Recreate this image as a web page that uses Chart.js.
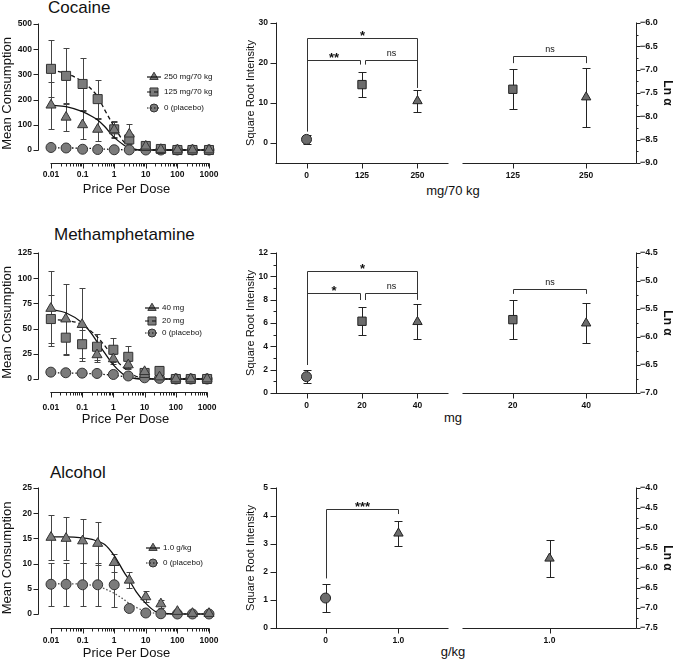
<!DOCTYPE html>
<html>
<head>
<meta charset="utf-8">
<script src="https://cdn.jsdelivr.net/npm/chart.js@4.4.1/dist/chart.umd.min.js"></script>
<style>
  body { margin: 0; background: #fff; }
  #fig { position: relative; width: 676px; height: 661px; font-family: 'Liberation Sans', Arial, sans-serif; color: #111; }
  #fig canvas { position: absolute; }
  .lbl { position: absolute; white-space: nowrap; line-height: 1; }
  .panel-title { font-size: 17px; }
  .x-title { font-size: 13px; transform: translateX(-50%); }
</style>
</head>
<body>
<div id="fig">
  <div class="lbl panel-title" style="left:48px;top:-1px">Cocaine</div>
  <div class="lbl panel-title" style="left:54px;top:226px">Methamphetamine</div>
  <div class="lbl panel-title" style="left:50px;top:464px">Alcohol</div>
  <div class="lbl x-title" style="left:453px;top:184px">mg/70 kg</div>
  <div class="lbl x-title" style="left:453px;top:411px">mg</div>
  <div class="lbl x-title" style="left:453px;top:645px">g/kg</div>

  <canvas id="cocDemand" width="228" height="200" style="left:0;top:0"></canvas>
  <canvas id="cocDose" width="226" height="200" style="left:230px;top:0"></canvas>
  <canvas id="cocAlpha" width="220" height="200" style="left:456px;top:0"></canvas>

  <canvas id="methDemand" width="228" height="215" style="left:0;top:215px"></canvas>
  <canvas id="methDose" width="226" height="215" style="left:230px;top:215px"></canvas>
  <canvas id="methAlpha" width="220" height="215" style="left:456px;top:215px"></canvas>

  <canvas id="alcDemand" width="228" height="221" style="left:0;top:440px"></canvas>
  <canvas id="alcDose" width="226" height="221" style="left:230px;top:440px"></canvas>
  <canvas id="alcAlpha" width="220" height="221" style="left:456px;top:440px"></canvas>
</div>
<script>
// ---------- data ----------
const prices = [0.01, 0.03, 0.1, 0.3, 1, 3, 10, 30, 100, 300, 1000];
const fitPrices = [0.01, 0.03, 0.1, 0.2, 0.3, 0.5, 1, 2, 3, 5, 10, 20, 30, 100, 1000];
const priceLabels = ['0.01', '0.1', '1', '10', '100', '1000'];

// cocaine demand
const coc250 = [178, 130, 100, 82, 80, 63, 15, 2, 0, 0, 0];
const coc250Err = [93, 55, 55, 45, 30, 40, 6, 2, 0, 0, 0];
const coc125 = [322, 294, 262, 202, 82, 42, 16, 4, 0, 0, 0];
const coc125Err = [113, 112, 104, 77, 34, 15, 5, 2, 0, 0, 0];
const cocPlacebo = [10, 8, 3, 2, 1, 0.5, 0, 0, 0, 0, 0];
const coc250Fit = [178, 172, 152, 133, 119, 93, 50, 20, 7, 1, 0, 0, 0, 0, 0];
const coc125Fit = [317, 304, 271, 238, 212, 159, 93, 33, 11, 2, 0, 0, 0, 0, 0];
const cocPlaceboFit = [9, 8.5, 7, 6, 5, 3.5, 2, 0.8, 0.3, 0, 0, 0, 0, 0, 0];
const cocConsTicks = [0, 100, 200, 300, 400, 500];

// methamphetamine demand
const meth40 = [70, 59.5, 54, 24, 20, 14, 7.3, 2, 0, 0, 0];
const meth40Err = [37, 35, 36, 7, 5, 4, 2, 1, 0, 0, 0];
const meth20 = [59.5, 41, 34.5, 32, 29, 22, 6, 8, 0, 0, 0];
const meth20Err = [24, 17, 14, 13, 12, 11, 3, 5, 0, 0, 0];
const methPlacebo = [6.8, 6.2, 5.8, 5.5, 4.5, 3, 1.2, 0.6, 0, 0, 0];
const meth40Fit = [69, 65.7, 55.7, 45, 37, 27, 14, 5, 2, 0.5, 0, 0, 0, 0, 0];
const meth20Fit = [59, 58, 54, 47, 42, 34, 22, 12, 8, 3, 1, 0.2, 0, 0, 0];
const methPlaceboFit = [6, 6, 5.6, 5.3, 5, 4.5, 3.8, 2.5, 1.5, 0.8, 0.3, 0.1, 0, 0, 0];
const methConsTicks = [0, 25, 50, 75, 100, 125];

// alcohol demand
const alc10 = [15.2, 15.0, 14.5, 14.0, 10.2, 6.7, 3.4, 2.0, 0.5, 0.1, 0.1];
const alc10Err = [4.5, 4.3, 4.3, 4.3, 1.8, 1.6, 1.1, 0.8, 0.3, 0.1, 0.1];
const alcPlacebo = [5.9, 5.9, 5.8, 5.8, 5.8, 1.1, 0.2, 0.05, 0, 0, 0];
const alcPlaceboErr = [4.3, 4.3, 4.3, 4.3, 4.4, 0.3, 0.2, 0, 0, 0, 0];
const alc10Fit = [15.3, 15.3, 15.1, 14.8, 14.4, 13.8, 11.6, 8.4, 6.7, 4.4, 2.1, 0.5, 0.2, 0, 0];
const alcPlaceboFit = [6.0, 6.0, 5.9, 5.7, 5.5, 5.0, 4.1, 2.9, 2.1, 1.3, 0.5, 0.15, 0.1, 0, 0];
const alcConsTicks = [0, 5, 10, 15, 20, 25];

// square root intensity and ln alpha
const cocDoses = ['0', '125', '250'];
const cocIntensity = [0.9, 14.6, 10.5];
const cocIntensityErr = [1.1, 3.2, 2.7];
const cocIntTicks = [0, 10, 20, 30];
const cocAlphaDoses = ['125', '250'];
const cocLnAlpha = [-7.42, -7.59];
const cocLnAlphaErr = [0.43, 0.63];
const cocAlphaTicks = [-9, -8.5, -8, -7.5, -7, -6.5, -6];

const methDoses = ['0', '20', '40'];
const methIntensity = [1.4, 6.15, 6.1];
const methIntensityErr = [0.57, 1.19, 1.5];
const methIntTicks = [0, 2, 4, 6, 8, 10, 12];
const methAlphaDoses = ['20', '40'];
const methLnAlpha = [-5.69, -5.755];
const methLnAlphaErr = [0.35, 0.355];
const methAlphaTicks = [-7, -6.5, -6, -5.5, -5, -4.5];

const alcDoses = ['0', '1.0'];
const alcIntensity = [1.07, 3.38];
const alcIntensityErr = [0.5, 0.45];
const alcIntTicks = [0, 1, 2, 3, 4, 5];
const alcAlphaDoses = ['1.0'];
const alcLnAlpha = [-5.76];
const alcLnAlphaErr = [0.46];
const alcAlphaTicks = [-7.5, -7, -6.5, -6, -5.5, -5, -4.5, -4];

// significance brackets (category index, value level, leg ends)
const cocIntensitySig = [
  {from: 0, to: 2, y: 26.3, ends: [2.9, 13.8], text: '*'},
  {from: 0, to: 1, y: 20.75, ends: [2.9, 19.6], text: '**'},
  {from: 1, to: 2, y: 20.75, ends: [19.6, 13.8], text: 'ns'}
];
const cocAlphaSig = [{from: 0, to: 1, y: -6.71, ends: [-6.86, -6.86], text: 'ns'}];
const methIntensitySig = [
  {from: 0, to: 2, y: 10.45, ends: [2.4, 8.0], text: '*'},
  {from: 0, to: 1, y: 8.54, ends: [2.4, 7.97], text: '*'},
  {from: 1, to: 2, y: 8.54, ends: [7.97, 8.0], text: 'ns'}
];
const methAlphaSig = [{from: 0, to: 1, y: -5.14, ends: [-5.23, -5.23], text: 'ns'}];
const alcIntensitySig = [{from: 0, to: 1, y: 4.24, ends: [1.77, 4.07], text: '***'}];

// ---------- drawing ----------
Chart.defaults.font.family = "'Liberation Sans', Arial, sans-serif";
Chart.defaults.color = '#111';
Chart.defaults.animation = false;
Chart.defaults.plugins.legend.display = false;
Chart.defaults.plugins.tooltip.enabled = false;

const FONT = "'Liberation Sans', Arial, sans-serif";
const tickFont = {size: 8.5, weight: 'bold'};
const ink = '#222';
const noGrid = {display: false, drawTicks: false, tickLength: 0};
const demandRadius = {circle: 5, rect: 6.4, triangle: 5.8};
const legendRadius = {circle: 4, rect: 5.7, triangle: 4.8};
const groupRadius = {circle: 5, rect: 5.9, triangle: 5.4};

function drawMarker(ctx, style, x, y, r) {
  ctx.beginPath();
  if (style === 'circle') {
    ctx.arc(x, y, r, 0, Math.PI * 2);
  } else if (style === 'rect') {
    const s = r * Math.SQRT1_2;
    ctx.rect(x - s, y - s, 2 * s, 2 * s);
  } else {
    ctx.moveTo(x, y - r);
    ctx.lineTo(x + r * 0.866, y + r * 0.5);
    ctx.lineTo(x - r * 0.866, y + r * 0.5);
    ctx.closePath();
  }
  ctx.fill();
  ctx.stroke();
}

const crisp = v => Math.round(v) + 0.5;

// detached Prism-style axis lines and ticks
const axesPlugin = {
  id: 'prismAxes',
  afterDatasetsDraw(chart, args, o) {
    const {ctx, chartArea: a, scales: {x, y}} = chart;
    ctx.save();
    ctx.strokeStyle = ink;
    ctx.lineWidth = 1;
    ctx.beginPath();
    const yb = crisp(a.bottom);
    const x0 = o.xSpan ? x.getPixelForValue(o.xSpan[0]) : a.left;
    const x1 = o.xSpan ? x.getPixelForValue(o.xSpan[1]) : a.right;
    ctx.moveTo(x0 - 0.5, yb); ctx.lineTo(x1 + 0.5, yb);
    (o.xMajor || []).forEach(v => { const p = crisp(x.getPixelForValue(v)); ctx.moveTo(p, yb); ctx.lineTo(p, yb + 5); });
    (o.xMinor || []).forEach(v => { const p = crisp(x.getPixelForValue(v)); ctx.moveTo(p, yb); ctx.lineTo(p, yb + 3); });
    const xa = o.yRight ? crisp(a.right) : crisp(a.left);
    const dir = o.yRight ? 1 : -1;
    const yt = o.ySpan ? y.getPixelForValue(o.ySpan[1]) : a.top;
    const ybt = o.ySpan ? y.getPixelForValue(o.ySpan[0]) : a.bottom;
    ctx.moveTo(xa, ybt + 0.5); ctx.lineTo(xa, yt - 0.5);
    (o.yMajor || []).forEach(v => { const p = crisp(y.getPixelForValue(v)); ctx.moveTo(xa, p); ctx.lineTo(xa + dir * o.yLen, p); });
    (o.yMinor || []).forEach(v => { const p = crisp(y.getPixelForValue(v)); ctx.moveTo(xa, p); ctx.lineTo(xa + dir * o.yLen / 2, p); });
    ctx.stroke();
    ctx.restore();
  }
};

const errorBars = {
  id: 'errorBars',
  beforeDatasetsDraw(chart, args, o) {
    const ctx = chart.ctx;
    ctx.save();
    ctx.strokeStyle = o.color || ink;
    ctx.lineWidth = 1;
    chart.data.datasets.forEach((ds, i) => {
      if (!ds.err) return;
      const meta = chart.getDatasetMeta(i);
      const ys = chart.scales[meta.yAxisID];
      meta.data.forEach((pt, j) => {
        const e = ds.err[j];
        if (!e) return;
        const v = ds.data[j].y;
        const top = crisp(ys.getPixelForValue(v + e));
        const bot = crisp(ys.getPixelForValue(v - e));
        const x = crisp(pt.x);
        ctx.beginPath();
        ctx.moveTo(x, top); ctx.lineTo(x, bot);
        ctx.moveTo(x - o.cap, top); ctx.lineTo(x + o.cap, top);
        ctx.moveTo(x - o.cap, bot); ctx.lineTo(x + o.cap, bot);
        ctx.stroke();
      });
    });
    ctx.restore();
  }
};

const brackets = {
  id: 'brackets',
  afterDatasetsDraw(chart, args, o) {
    const items = o.items || [];
    const {ctx, scales: {x, y}} = chart;
    ctx.save();
    ctx.strokeStyle = '#333';
    ctx.fillStyle = '#111';
    ctx.lineWidth = 1;
    items.forEach(b => {
      const touches = (v, key) => items.some(t => t !== b && t.y === b.y && t[key] === v);
      let xa = x.getPixelForValue(b.from), xb = x.getPixelForValue(b.to);
      if (touches(b.from, 'to')) xa += 2.5;
      if (touches(b.to, 'from')) xb -= 2.5;
      xa = crisp(xa); xb = crisp(xb);
      const yy = crisp(y.getPixelForValue(b.y));
      ctx.beginPath();
      ctx.moveTo(xa, y.getPixelForValue(b.ends[0]));
      ctx.lineTo(xa, yy);
      ctx.lineTo(xb, yy);
      ctx.lineTo(xb, y.getPixelForValue(b.ends[1]));
      ctx.stroke();
      const star = b.text !== 'ns';
      ctx.font = star ? 'bold 13px ' + FONT : '9px ' + FONT;
      ctx.textAlign = 'center';
      ctx.textBaseline = 'alphabetic';
      ctx.fillText(b.text, (xa + xb) / 2, star ? yy + 1 : yy - 5);
    });
    ctx.restore();
  }
};

const demandLegend = {
  id: 'demandLegend',
  afterDraw(chart, args, o) {
    const ctx = chart.ctx;
    ctx.save();
    o.items.forEach((it, i) => {
      const x = o.x, y = o.y[i];
      ctx.fillStyle = '#7b7b7b';
      ctx.strokeStyle = '#333';
      ctx.lineWidth = 1;
      drawMarker(ctx, it.style, x, y, legendRadius[it.style]);
      ctx.strokeStyle = '#111';
      ctx.lineWidth = 1.2;
      ctx.setLineDash(it.dash);
      ctx.beginPath();
      ctx.moveTo(x - 7, y); ctx.lineTo(x + 7, y);
      ctx.stroke();
      ctx.setLineDash([]);
      ctx.fillStyle = '#111';
      ctx.font = '8px ' + FONT;
      ctx.textAlign = 'left';
      ctx.textBaseline = 'middle';
      ctx.fillText(it.label, x + 10, y);
    });
    ctx.restore();
  }
};

// horizontal layout shared by the three demand panels
const AREA_LEFT = 38, AREA_RIGHT = 215, PX_001 = 51, PX_1000 = 209;

function demandChart(id, cfg) {
  const cv = document.getElementById(id);
  const W = cv.width, H = cv.height;
  const yMax = cfg.yTicks[cfg.yTicks.length - 1];
  const perUnit = (cfg.zero - cfg.top) / yMax;
  const yMin = -(cfg.bottom - cfg.zero) / perUnit;
  const decade = (PX_1000 - PX_001) / 5;
  const lo = -2 - (PX_001 - AREA_LEFT) / decade;
  const hi = 3 + (AREA_RIGHT - PX_1000) / decade;

  const majors = [0.01, 0.1, 1, 10, 100, 1000];
  const minors = [];
  majors.slice(0, -1).forEach(m => { for (let k = 2; k <= 9; k++) minors.push(m * k); });
  const allTicks = majors.concat(minors).sort((a, b) => a - b);

  const datasets = [];
  cfg.series.forEach(s => datasets.push({
    type: 'scatter',
    label: s.label,
    data: prices.map((x, i) => ({x, y: s.values[i]})),
    err: s.err,
    pointStyle: s.style,
    pointRadius: demandRadius[s.style],
    pointBackgroundColor: '#7b7b7b',
    pointBorderColor: '#333',
    pointBorderWidth: 1
  }));
  cfg.series.forEach(s => datasets.push({
    type: 'line',
    data: fitPrices.map((x, i) => ({x, y: s.fit[i]})),
    showLine: true,
    borderColor: s.fitColor || '#111',
    borderWidth: 1.3,
    borderDash: s.dash,
    pointRadius: 0,
    cubicInterpolationMode: 'monotone',
    fill: false
  }));

  new Chart(cv, {
    type: 'scatter',
    data: {datasets},
    options: {
      responsive: false,
      layout: {padding: {top: cfg.top, right: W - AREA_RIGHT, bottom: 0, left: 0}},
      scales: {
        x: {
          type: 'logarithmic', bounds: 'data', min: Math.pow(10, lo), max: Math.pow(10, hi),
          afterBuildTicks: s => { s.ticks = allTicks.map(v => ({value: v})); },
          afterFit: s => { s.height = H - cfg.bottom; },
          grid: noGrid, border: {display: false},
          ticks: {
            autoSkip: false, maxRotation: 0, padding: cfg.xLabelPad, font: tickFont, color: '#111',
            callback: v => {
              const k = majors.findIndex(m => Math.abs(m - v) / m < 1e-6);
              return k >= 0 ? priceLabels[k] : '';
            }
          },
          title: {display: true, text: 'Price Per Dose', font: {size: 13}, color: '#111', padding: {top: 0, bottom: cfg.titlePad}}
        },
        y: {
          bounds: 'data', min: yMin, max: yMax,
          afterBuildTicks: s => { s.ticks = cfg.yTicks.map(v => ({value: v})); },
          afterFit: s => { s.width = AREA_LEFT; },
          grid: noGrid, border: {display: false},
          ticks: {autoSkip: false, padding: 6, font: tickFont, color: '#111'},
          title: {display: true, text: 'Mean Consumption', font: {size: 13}, color: '#111', padding: {top: 0, bottom: 0}}
        }
      },
      plugins: {
        prismAxes: {xSpan: [0.01, 1000], xMajor: majors, xMinor: minors, ySpan: [0, yMax], yMajor: cfg.yTicks, yLen: 5},
        errorBars: {cap: 3, color: '#444'},
        demandLegend: {x: cfg.legend.x, y: cfg.legend.y, items: cfg.series.map(s => ({label: s.label, style: s.style, dash: s.dash}))}
      }
    },
    plugins: [axesPlugin, errorBars, demandLegend]
  });
}

function groupChart(id, cfg) {
  const cv = document.getElementById(id);
  const H = cv.height;
  const right = cfg.side === 'right';
  const n = cfg.labels.length;
  const margin = n === 3 ? 0.55 : 0.68;
  const xMin = n === 1 ? -1 : -margin;
  const xMax = n === 1 ? 1 : n - 1 + margin;
  const range = cfg.range || [cfg.ticks[0], cfg.ticks[cfg.ticks.length - 1]];
  const minor = cfg.halfMinor ? cfg.ticks.slice(1).map((v, i) => (v + cfg.ticks[i]) / 2) : (cfg.minor || []);
  const fmt = right ? (v => (v < 0 ? '\u2212' : '') + Math.abs(v).toFixed(1)) : (v => String(v));

  new Chart(cv, {
    type: 'scatter',
    data: {datasets: [{
      data: cfg.values.map((y, i) => ({x: i, y})),
      err: cfg.err,
      pointStyle: cfg.styles,
      pointRadius: cfg.styles.map(s => groupRadius[s]),
      pointBackgroundColor: '#6c6c6c',
      pointBorderColor: '#222',
      pointBorderWidth: 1
    }]},
    options: {
      responsive: false,
      layout: {padding: {top: cfg.top, left: right ? 7 : 0, right: right ? 0 : 8, bottom: 0}},
      scales: {
        x: {
          type: 'linear', bounds: 'data', min: xMin, max: xMax,
          afterBuildTicks: s => { s.ticks = cfg.labels.map((l, i) => ({value: i})); },
          afterFit: s => { s.height = H - cfg.bottom; },
          grid: noGrid, border: {display: false},
          ticks: {autoSkip: false, maxRotation: 0, padding: 7.4, font: tickFont, color: '#111',
            callback: v => cfg.labels[Math.round(v)]}
        },
        y: {
          position: right ? 'right' : 'left', bounds: 'data', min: range[0], max: range[1],
          afterBuildTicks: s => { s.ticks = cfg.ticks.map(v => ({value: v})); },
          afterFit: s => { s.width = right ? 40 : 46; },
          grid: noGrid, border: {display: false},
          ticks: {autoSkip: false, padding: right ? 4 : 8, font: right ? {size: 9, weight: 'bold'} : tickFont, color: '#111', callback: fmt},
          title: right
            ? {display: true, text: 'Ln α', font: {size: 12, weight: 'bold'}, color: '#111', padding: {top: 1.8, bottom: 0}}
            : {display: true, text: 'Square Root Intensity', font: {size: 11}, color: '#111', padding: {top: 14, bottom: 0}}
        }
      },
      plugins: {
        prismAxes: {xMajor: cfg.labels.map((l, i) => i), yMajor: cfg.ticks, yMinor: minor, yRight: right, yLen: right ? 4 : 6},
        errorBars: {cap: 4},
        brackets: {items: cfg.sig || []}
      }
    },
    plugins: [axesPlugin, errorBars, brackets]
  });
}

// ---- row 1: cocaine ----
demandChart('cocDemand', {
  top: 24, zero: 150, bottom: 163, xLabelPad: 6.4, titlePad: 3.2,
  yTicks: cocConsTicks,
  series: [
    {label: '250 mg/70 kg', style: 'triangle', values: coc250, err: coc250Err, fit: coc250Fit, dash: []},
    {label: '125 mg/70 kg', style: 'rect', values: coc125, err: coc125Err, fit: coc125Fit, dash: [4, 3]},
    {label: '0 (placebo)', style: 'circle', values: cocPlacebo, err: null, fit: cocPlaceboFit, dash: [1.5, 2]}
  ],
  legend: {x: 154, y: [77, 92, 108]}
});
groupChart('cocDose', {
  side: 'left', top: 23, bottom: 163, labels: cocDoses, values: cocIntensity, err: cocIntensityErr,
  styles: ['circle', 'rect', 'triangle'], ticks: cocIntTicks, range: [-5, 30], sig: cocIntensitySig
});
groupChart('cocAlpha', {
  side: 'right', top: 23, bottom: 163, labels: cocAlphaDoses, values: cocLnAlpha, err: cocLnAlphaErr,
  styles: ['rect', 'triangle'], ticks: cocAlphaTicks, halfMinor: true, sig: cocAlphaSig
});

// ---- row 2: methamphetamine ----
demandChart('methDemand', {
  top: 38, zero: 164, bottom: 177, xLabelPad: 11, titlePad: 3.2,
  yTicks: methConsTicks,
  series: [
    {label: '40 mg', style: 'triangle', values: meth40, err: meth40Err, fit: meth40Fit, dash: []},
    {label: '20 mg', style: 'rect', values: meth20, err: meth20Err, fit: meth20Fit, dash: [4, 3]},
    {label: '0 (placebo)', style: 'circle', values: methPlacebo, err: null, fit: methPlaceboFit, dash: [1.5, 2]}
  ],
  legend: {x: 152, y: [93, 106, 118]}
});
groupChart('methDose', {
  side: 'left', top: 38, bottom: 178, labels: methDoses, values: methIntensity, err: methIntensityErr,
  styles: ['circle', 'rect', 'triangle'], ticks: methIntTicks, minor: [1, 3, 5, 7, 9, 11], sig: methIntensitySig
});
groupChart('methAlpha', {
  side: 'right', top: 38, bottom: 178, labels: methAlphaDoses, values: methLnAlpha, err: methLnAlphaErr,
  styles: ['rect', 'triangle'], ticks: methAlphaTicks, halfMinor: true, sig: methAlphaSig
});

// ---- row 3: alcohol ----
demandChart('alcDemand', {
  top: 48, zero: 174, bottom: 188, xLabelPad: 7.4, titlePad: 0.2,
  yTicks: alcConsTicks,
  series: [
    {label: '1.0 g/kg', style: 'triangle', values: alc10, err: alc10Err, fit: alc10Fit, dash: []},
    {label: '0 (placebo)', style: 'circle', values: alcPlacebo, err: alcPlaceboErr, fit: alcPlaceboFit, dash: [1.5, 2], fitColor: '#555'}
  ],
  legend: {x: 153, y: [108, 123]}
});
groupChart('alcDose', {
  side: 'left', top: 48, bottom: 188, labels: alcDoses, values: alcIntensity, err: alcIntensityErr,
  styles: ['circle', 'triangle'], ticks: alcIntTicks, sig: alcIntensitySig
});
groupChart('alcAlpha', {
  side: 'right', top: 48, bottom: 188, labels: alcAlphaDoses, values: alcLnAlpha, err: alcLnAlphaErr,
  styles: ['triangle'], ticks: alcAlphaTicks, halfMinor: true
});
</script>
</body>
</html>
